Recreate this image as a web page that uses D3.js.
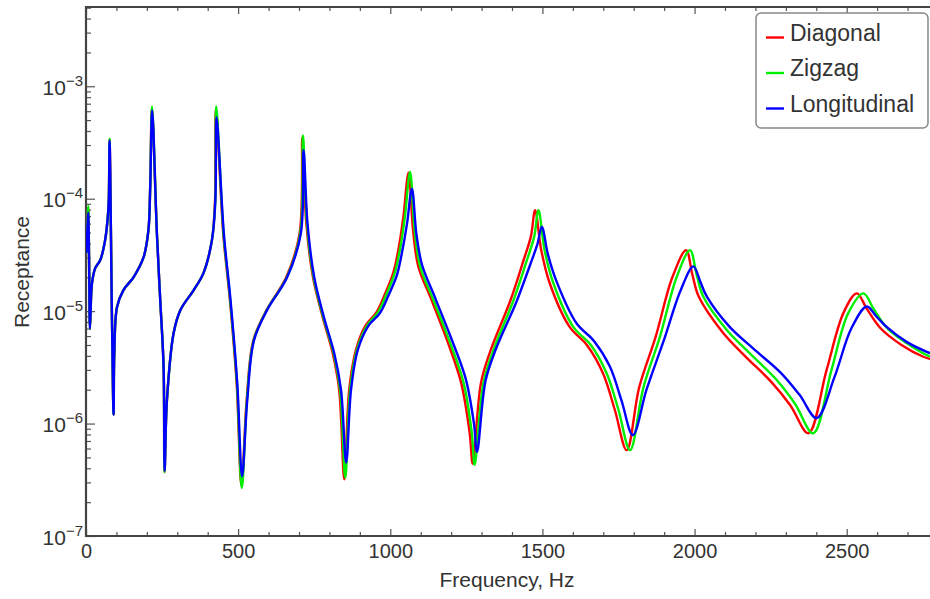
<!DOCTYPE html>
<html>
<head>
<meta charset="utf-8">
<script src="https://cdn.jsdelivr.net/npm/d3@7"></script>
<style>
  body { margin: 0; background: #fff; }
  text { font-family: "Liberation Sans", Arial, sans-serif; fill: #333; }
</style>
</head>
<body>
<div id="chart"></div>
<script>
// series data: [frequency Hz, receptance]
var diagonal = [
  [1, 3.3e-5], [5, 6e-5], [7.5, 8.3e-5], [10, 3e-5], [13, 7e-6], [17, 1.4e-5], [20, 1.8e-5],
  [30, 2.4e-5], [47, 2.85e-5], [63, 4.3e-5], [72, 7.1e-5], [75, 1.0e-4], [77.5, 3.35e-4],
  [85.4, 8.3e-6], [90.7, 1.2e-6], [93, 4.2e-6], [102, 1.09e-5], [123, 1.54e-5], [156, 2.0e-5],
  [189, 3.0e-5], [205, 5.2e-5], [211, 1.26e-4], [216.5, 6.4e-4], [233, 4.9e-5], [244, 1.25e-5],
  [255, 3.2e-6], [258, 3.7e-7], [266, 1.62e-6], [288, 6.4e-6], [310, 1.02e-5], [354, 1.54e-5],
  [386, 2.18e-5], [414, 4.3e-5], [424, 9.7e-5], [427, 6.3e-4], [451, 4.9e-5], [473, 1.25e-5],
  [495, 2.3e-6], [511, 2.8e-7], [528, 1.62e-6], [550, 5.5e-6], [593, 1.02e-5], [658, 2.0e-5],
  [702, 4.9e-5], [711, 3.5e-4], [724, 6.05e-5], [746, 2.0e-5], [778, 8.8e-6], [811, 4.2e-6],
  [832, 2.0e-6], [849, 3.2e-7], [865, 2.0e-6], [887, 4.5e-6], [918, 7.4e-6], [955, 9.8e-6],
  [984, 1.45e-5], [1010, 2.2e-5], [1028, 3.7e-5], [1043, 6.9e-5], [1060, 1.7e-4], [1075, 5.2e-5],
  [1092, 2.5e-5], [1136, 1.25e-5], [1190, 5.2e-6], [1233, 2.3e-6], [1261, 8.2e-7], [1271, 4.4e-7],
  [1298, 2.3e-6], [1330, 4.5e-6], [1395, 1.25e-5], [1438, 2.84e-5], [1462, 4.6e-5], [1476, 7.9e-5],
  [1496, 3.5e-5], [1524, 1.77e-5], [1590, 7.2e-6], [1646, 5.0e-6], [1699, 2.8e-6], [1738, 1.32e-6],
  [1777, 5.8e-7], [1818, 2.1e-6], [1872, 5.9e-6], [1927, 2.0e-5], [1972, 3.48e-5], [1993, 2.1e-5],
  [2014, 1.34e-5], [2090, 6.6e-6], [2165, 4.0e-6], [2252, 2.35e-6], [2315, 1.45e-6], [2374, 8.2e-7],
  [2434, 3.0e-6], [2489, 9.6e-6], [2533, 1.44e-5], [2566, 1.05e-5], [2612, 7.0e-6], [2680, 5.0e-6],
  [2750, 3.95e-6], [2800, 3.6e-6]
];

var zigzag = [
  [1, 3.3e-5], [5, 6.2e-5], [7.5, 8.6e-5], [10, 3e-5], [13, 7e-6], [17, 1.4e-5], [20, 1.8e-5],
  [30, 2.4e-5], [47, 2.85e-5], [63, 4.3e-5], [72, 7.1e-5], [75, 1.0e-4], [77.5, 3.4e-4],
  [85.4, 8.3e-6], [90.7, 1.2e-6], [93, 4.2e-6], [102, 1.09e-5], [123, 1.54e-5], [156, 2.0e-5],
  [189, 3.0e-5], [205, 5.2e-5], [211, 1.26e-4], [217, 6.6e-4], [233, 4.9e-5], [244, 1.25e-5],
  [255, 3.2e-6], [258, 3.7e-7], [266, 1.62e-6], [288, 6.4e-6], [310, 1.02e-5], [354, 1.54e-5],
  [386, 2.18e-5], [414, 4.3e-5], [425, 9.7e-5], [428, 6.6e-4], [452, 4.9e-5], [474, 1.25e-5],
  [496, 2.3e-6], [512, 2.67e-7], [529, 1.62e-6], [551, 5.5e-6], [594, 1.02e-5], [660, 2.0e-5],
  [704, 4.9e-5], [713, 3.66e-4], [726, 6.05e-5], [748, 2.0e-5], [780, 8.8e-6], [814, 4.2e-6],
  [835, 2.0e-6], [852, 3.3e-7], [868, 2.0e-6], [890, 4.5e-6], [923, 7.4e-6], [960, 9.8e-6],
  [989, 1.45e-5], [1015, 2.2e-5], [1033, 3.7e-5], [1048, 6.9e-5], [1065, 1.73e-4], [1080, 5.2e-5],
  [1098, 2.5e-5], [1142, 1.25e-5], [1197, 5.2e-6], [1241, 2.3e-6], [1268, 8.2e-7], [1277, 4.3e-7],
  [1306, 2.3e-6], [1339, 4.5e-6], [1405, 1.25e-5], [1449, 2.84e-5], [1473, 4.6e-5], [1487, 7.9e-5],
  [1507, 3.5e-5], [1536, 1.77e-5], [1602, 7.2e-6], [1659, 5.0e-6], [1711, 2.8e-6], [1750, 1.32e-6],
  [1788, 5.8e-7], [1832, 2.1e-6], [1886, 5.9e-6], [1941, 2.0e-5], [1985, 3.48e-5], [2007, 2.1e-5],
  [2029, 1.34e-5], [2106, 6.8e-6], [2182, 4.2e-6], [2270, 2.44e-6], [2330, 1.5e-6], [2390, 8.2e-7],
  [2450, 3.0e-6], [2505, 9.6e-6], [2555, 1.44e-5], [2588, 1.05e-5], [2632, 7.1e-6], [2697, 5.2e-6],
  [2763, 4.06e-6], [2800, 3.75e-6]
];

var longitudinal = [
  [1, 3.3e-5], [5, 5.8e-5], [7.5, 7.5e-5], [10, 3e-5], [13, 7e-6], [17, 1.4e-5], [20, 1.8e-5],
  [30, 2.4e-5], [47, 2.85e-5], [63, 4.3e-5], [72, 7.1e-5], [75, 1.0e-4], [77.5, 3.3e-4],
  [85.4, 8.3e-6], [90.7, 1.2e-6], [93, 4.2e-6], [102, 1.09e-5], [123, 1.54e-5], [156, 2.0e-5],
  [189, 3.0e-5], [205, 5.2e-5], [211, 1.26e-4], [217.5, 6.1e-4], [233, 4.9e-5], [244, 1.25e-5],
  [255, 3.2e-6], [258.5, 3.8e-7], [266, 1.62e-6], [288, 6.4e-6], [310, 1.02e-5], [354, 1.54e-5],
  [386, 2.18e-5], [414, 4.3e-5], [425, 9.5e-5], [429, 5.3e-4], [453, 4.9e-5], [475, 1.25e-5],
  [497, 2.3e-6], [513, 3.4e-7], [530, 1.62e-6], [552, 5.5e-6], [595, 1.02e-5], [661, 2.0e-5],
  [706, 4.9e-5], [715, 2.7e-4], [728, 6.0e-5], [750, 2.0e-5], [782, 8.8e-6], [816, 4.2e-6],
  [838, 2.0e-6], [855, 4.5e-7], [871, 2.0e-6], [893, 4.5e-6], [928, 7.4e-6], [966, 9.6e-6],
  [995, 1.4e-5], [1022, 2.1e-5], [1040, 3.5e-5], [1055, 6.0e-5], [1071, 1.23e-4], [1086, 4.8e-5],
  [1104, 2.6e-5], [1148, 1.3e-5], [1204, 5.4e-6], [1248, 2.5e-6], [1275, 1.0e-6], [1285, 5.6e-7],
  [1313, 2.4e-6], [1347, 4.6e-6], [1414, 1.2e-5], [1460, 2.6e-5], [1483, 3.9e-5], [1498, 5.6e-5],
  [1518, 3.2e-5], [1546, 1.85e-5], [1612, 7.8e-6], [1670, 5.4e-6], [1722, 3.2e-6], [1760, 1.6e-6],
  [1797, 7.9e-7], [1842, 2.0e-6], [1898, 5.4e-6], [1955, 1.55e-5], [1996, 2.5e-5], [2018, 1.85e-5],
  [2040, 1.35e-5], [2116, 7.2e-6], [2195, 4.6e-6], [2285, 2.8e-6], [2345, 1.8e-6], [2401, 1.12e-6],
  [2460, 2.6e-6], [2515, 7.0e-6], [2566, 1.1e-5], [2597, 9.0e-6], [2632, 7.2e-6], [2698, 5.3e-6],
  [2763, 4.35e-6], [2800, 4.0e-6]
];

var seriesNames = ['Diagonal', 'Zigzag', 'Longitudinal'];
var seriesColors = ['#ff0000', '#00ee00', '#0000ff'];
var xMajorTicks = [0, 500, 1000, 1500, 2000, 2500];
var yMajorExp = [-7, -6, -5, -4, -3];

var width = 930, height = 599;
var margin = {top: 7, left: 86, bottom: 63};
var plotRight = 938;

var svg = d3.select('#chart').append('svg')
  .attr('width', width)
  .attr('height', height);

var x = d3.scaleLinear().domain([0, 2800]).range([margin.left, plotRight]);
var y = d3.scaleLog().domain([1e-7, Math.pow(10, -2.295)]).range([height - margin.bottom, margin.top]);

svg.append('clipPath').attr('id', 'plotclip')
  .append('rect')
  .attr('x', margin.left).attr('y', margin.top)
  .attr('width', plotRight - margin.left).attr('height', height - margin.bottom - margin.top);

// minor ticks
var xMinor = d3.range(0, 2801, 100).filter(function(d) { return d % 500 !== 0; });
var yMinor = [];
yMajorExp.forEach(function(e) {
  for (var k = 2; k <= 9; k++) {
    var v = k * Math.pow(10, e);
    if (v <= y.domain()[1]) yMinor.push(v);
  }
});

function styleAxis(g) {
  g.select('.domain').remove();
  g.selectAll('.tick line').attr('stroke', '#555').attr('stroke-width', 1.2);
}

var yb = height - margin.bottom;

svg.append('g').attr('transform', 'translate(0,' + yb + ')')
  .call(d3.axisBottom(x).tickValues(xMinor).tickSize(-4).tickFormat(''))
  .call(styleAxis);
svg.append('g').attr('transform', 'translate(0,' + yb + ')')
  .call(d3.axisBottom(x).tickValues(xMajorTicks).tickSize(-7).tickPadding(8).tickFormat(d3.format('d')))
  .call(styleAxis)
  .selectAll('text').attr('font-size', 20).attr('fill', '#333');

svg.append('g').attr('transform', 'translate(0,' + margin.top + ')')
  .call(d3.axisTop(x).tickValues(xMinor).tickSize(-4).tickFormat(''))
  .call(styleAxis);
svg.append('g').attr('transform', 'translate(0,' + margin.top + ')')
  .call(d3.axisTop(x).tickValues(xMajorTicks).tickSize(-7).tickFormat(''))
  .call(styleAxis);

svg.append('g').attr('transform', 'translate(' + margin.left + ',0)')
  .call(d3.axisLeft(y).tickValues(yMinor).tickSize(-5).tickFormat(''))
  .call(styleAxis);
var yAxisG = svg.append('g').attr('transform', 'translate(' + margin.left + ',0)')
  .call(d3.axisLeft(y).tickValues(yMajorExp.map(function(e) { return Math.pow(10, e); })).tickSize(-9).tickFormat(''))
  .call(styleAxis);

yAxisG.selectAll('.tick').each(function(d) {
  var e = Math.round(Math.log10(d));
  var t = d3.select(this).append('text')
    .attr('x', -3).attr('y', 8)
    .attr('text-anchor', 'end')
    .attr('font-size', 21)
    .attr('fill', '#333');
  t.append('tspan').text('10');
  t.append('tspan').attr('dy', -9).attr('font-size', 15).text('\u2212' + Math.abs(e));
});

// frame
svg.append('path')
  .attr('d', 'M' + plotRight + ',' + margin.top + 'H' + margin.left + 'V' + yb + 'H' + plotRight)
  .attr('fill', 'none').attr('stroke', '#444').attr('stroke-width', 2.2);

// curves
var line = d3.line()
  .x(function(d) { return x(d[0]); })
  .y(function(d) { return y(d[1]); })
  .curve(d3.curveCatmullRom.alpha(0.5));

var plotG = svg.append('g').attr('clip-path', 'url(#plotclip)');
[diagonal, zigzag, longitudinal].forEach(function(s, i) {
  plotG.append('path')
    .datum(s)
    .attr('d', line)
    .attr('fill', 'none')
    .attr('stroke', seriesColors[i])
    .attr('stroke-width', 2.4)
    .attr('stroke-linejoin', 'round');
});

// axis titles
svg.append('text')
  .attr('x', 507).attr('y', 587)
  .attr('text-anchor', 'middle')
  .attr('font-size', 21)
  .text('Frequency, Hz');
svg.append('text')
  .attr('transform', 'translate(29,272) rotate(-90)')
  .attr('text-anchor', 'middle')
  .attr('font-size', 21)
  .text('Receptance');

// legend
var legend = svg.append('g');
legend.append('rect')
  .attr('x', 756).attr('y', 13).attr('width', 172).attr('height', 115)
  .attr('rx', 5).attr('fill', '#fff').attr('stroke', '#888').attr('stroke-width', 1.5);
seriesNames.forEach(function(name, i) {
  var ly = 37.5 + i * 35.5;
  legend.append('line')
    .attr('x1', 766).attr('x2', 784).attr('y1', ly).attr('y2', ly)
    .attr('stroke', seriesColors[i]).attr('stroke-width', 2.4);
  legend.append('text')
    .attr('x', 790).attr('y', ly + 3)
    .attr('font-size', 23)
    .text(name);
});
</script>
</body>
</html>
